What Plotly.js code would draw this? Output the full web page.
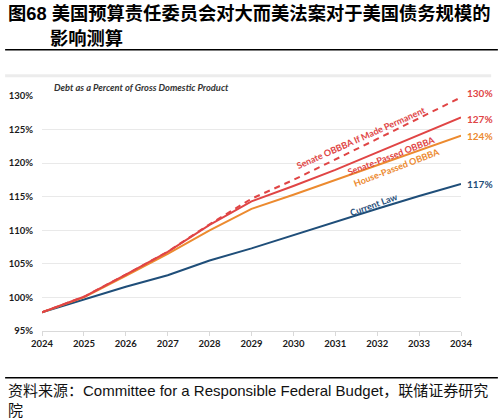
<!DOCTYPE html>
<html>
<head>
<meta charset="utf-8">
<script src="https://cdn.plot.ly/plotly-3.0.1.min.js"></script>
<style>html,body{margin:0;padding:0;background:#fff;}#chart{width:504px;height:420px;}</style>
</head>
<body>
<div id="chart"></div>
<script>
// ---- data ----
var years = [2024, 2025, 2026, 2027, 2028, 2029, 2030, 2031, 2032, 2033, 2034];
var yearLabels = ['2024','2025','2026','2027','2028','2029','2030','2031','2032','2033','2034'];
var currentLaw   = [97.8, 99.7, 101.6, 103.3, 105.5, 107.3, 109.3, 111.3, 113.2, 115.1, 116.9];
var housePassed  = [97.8, 100.0, 103.2, 106.5, 110.0, 113.2, 115.3, 117.5, 119.7, 121.9, 124.1];
var senatePassed = [97.8, 100.1, 103.4, 106.8, 110.8, 114.3, 116.6, 119.0, 121.6, 124.2, 126.8];
var senatePerm   = [97.8, 100.1, 103.4, 106.8, 110.9, 114.7, 117.5, 120.5, 123.6, 126.7, 129.8];
var seriesNames  = ['Current Law', 'House-Passed OBBBA', 'Senate-Passed OBBBA', 'Senate OBBBA If Made Permanent'];
var endLabels    = ['117%', '124%', '127%', '130%'];
var yTickVals    = [95, 100, 105, 110, 115, 120, 125, 130];
var yTickText    = ['95%', '100%', '105%', '110%', '115%', '120%', '125%', '130%'];
var titleLine1 = '图68 美国预算责任委员会对大而美法案对于美国债务规模的';
var titleLine2 = '影响测算';
var subtitle = 'Debt as a Percent of Gross Domestic Product';
var sourceLine1 = '资料来源：Committee for a Responsible Federal Budget，联储证券研究';
var sourceLine2 = '院';

// ---- styles ----
var cBlue = '#1f4e79', cOrange = '#ec8a2f', cRed = '#e04545';
var lab = 'Lato, "Open Sans", sans-serif';
var cjk = '"Liberation Sans", "Noto Sans CJK SC", sans-serif';
var yMin = 95, yMax = 130;

function lineStyle(color, dash) {
  var l = {color: color, width: 2};
  if (dash) l.dash = dash;
  return l;
}

var traces = [
  {x: years, y: currentLaw, name: seriesNames[0], mode: 'lines', line: lineStyle(cBlue)},
  {x: years, y: housePassed, name: seriesNames[1], mode: 'lines', line: lineStyle(cOrange)},
  {x: years, y: senatePassed, name: seriesNames[2], mode: 'lines', line: lineStyle(cRed)},
  {x: years, y: senatePerm, name: seriesNames[3], mode: 'lines', line: lineStyle(cRed, '6px,5px')}
];

var last = years.length - 1;
var colors = [cBlue, cOrange, cRed, cRed];
var endY = [currentLaw[last], housePassed[last], senatePassed[last] - 0.2, senatePerm[last] + 0.6];

var ann = [];
for (var i = 0; i < 4; i++) {
  ann.push({xref: 'paper', yref: 'paper', x: 1.01, y: (endY[i] - yMin) / (yMax - yMin), xanchor: 'left', yanchor: 'middle',
    text: '<b>' + endLabels[i] + '</b>', showarrow: false,
    font: {family: lab, size: 10, color: colors[i]}});
}
// line labels along the curves
ann.push({xref: 'x', yref: 'y', x: 2031.62, y: 123.8, text: '<b>' + seriesNames[3] + '</b>', textangle: -24,
  showarrow: false, font: {family: lab, size: 9, color: cRed}});
ann.push({xref: 'x', yref: 'y', x: 2032.35, y: 121.1, text: '<b>' + seriesNames[2] + '</b>', textangle: -21,
  showarrow: false, font: {family: lab, size: 9, color: cRed}});
ann.push({xref: 'x', yref: 'y', x: 2032.45, y: 119.4, text: '<b>' + seriesNames[1] + '</b>', textangle: -21,
  showarrow: false, font: {family: lab, size: 9, color: cOrange}});
ann.push({xref: 'x', yref: 'y', x: 2031.92, y: 113.8, text: '<b>' + seriesNames[0] + '</b>', textangle: -20,
  showarrow: false, font: {family: lab, size: 9, color: cBlue}});
// subtitle
ann.push({xref: 'paper', yref: 'paper', x: 0.024, y: 1.035, xanchor: 'left', yanchor: 'middle',
  text: '<b><i>' + subtitle + '</i></b>', showarrow: false, font: {family: lab, size: 9.3, color: '#333333'}});
// title
ann.push({xref: 'paper', yref: 'paper', x: -0.086, y: 1.352, xanchor: 'left', yanchor: 'middle',
  text: '<b>' + titleLine1 + '</b>', showarrow: false, font: {family: cjk, size: 18.3, color: '#000000'}});
ann.push({xref: 'paper', yref: 'paper', x: 0.0143, y: 1.243, xanchor: 'left', yanchor: 'middle',
  text: '<b>' + titleLine2 + '</b>', showarrow: false, font: {family: cjk, size: 18.3, color: '#000000'}});
// source
ann.push({xref: 'paper', yref: 'paper', x: -0.086, y: -0.2514, xanchor: 'left', yanchor: 'middle',
  text: sourceLine1, showarrow: false, font: {family: cjk, size: 15, color: '#111111'}});
ann.push({xref: 'paper', yref: 'paper', x: -0.086, y: -0.3366, xanchor: 'left', yanchor: 'middle',
  text: sourceLine2, showarrow: false, font: {family: cjk, size: 15, color: '#111111'}});

var shapes = [
  {type: 'line', xref: 'paper', yref: 'paper', x0: -0.088, x1: 1.088, y0: 1.1973, y1: 1.1973, line: {color: '#000', width: 1.5}},
  {type: 'line', xref: 'paper', yref: 'paper', x0: -0.088, x1: 1.072, y0: 1.0865, y1: 1.0865, line: {color: '#ececec', width: 3}},
  {type: 'line', xref: 'paper', yref: 'paper', x0: -0.088, x1: 1.088, y0: -0.199, y1: -0.199, line: {color: '#000', width: 1.5}}
];

var layout = {
  width: 504, height: 420,
  margin: {l: 42, r: 43, t: 96, b: 89, pad: 0},
  paper_bgcolor: '#ffffff', plot_bgcolor: '#ffffff',
  showlegend: false,
  xaxis: {range: [2024, 2034], tickvals: years, ticktext: yearLabels, showgrid: false, zeroline: false,
    showline: true, linecolor: '#d9d9d9', linewidth: 1, ticks: 'outside', ticklen: 4, tickcolor: '#d9d9d9',
    tickfont: {family: lab, size: 9.5, color: '#1a1a1a', weight: 700}},
  yaxis: {range: [yMin, yMax], tickvals: yTickVals, ticktext: yTickText, showgrid: true, gridcolor: '#e9e9e9',
    zeroline: false, showline: false, ticks: '', ticklabelstandoff: 8,
    tickfont: {family: lab, size: 9.5, color: '#1a1a1a', weight: 700}},
  annotations: ann,
  shapes: shapes
};

Plotly.newPlot('chart', traces, layout, {displayModeBar: false, staticPlot: true});
</script>
</body>
</html>
